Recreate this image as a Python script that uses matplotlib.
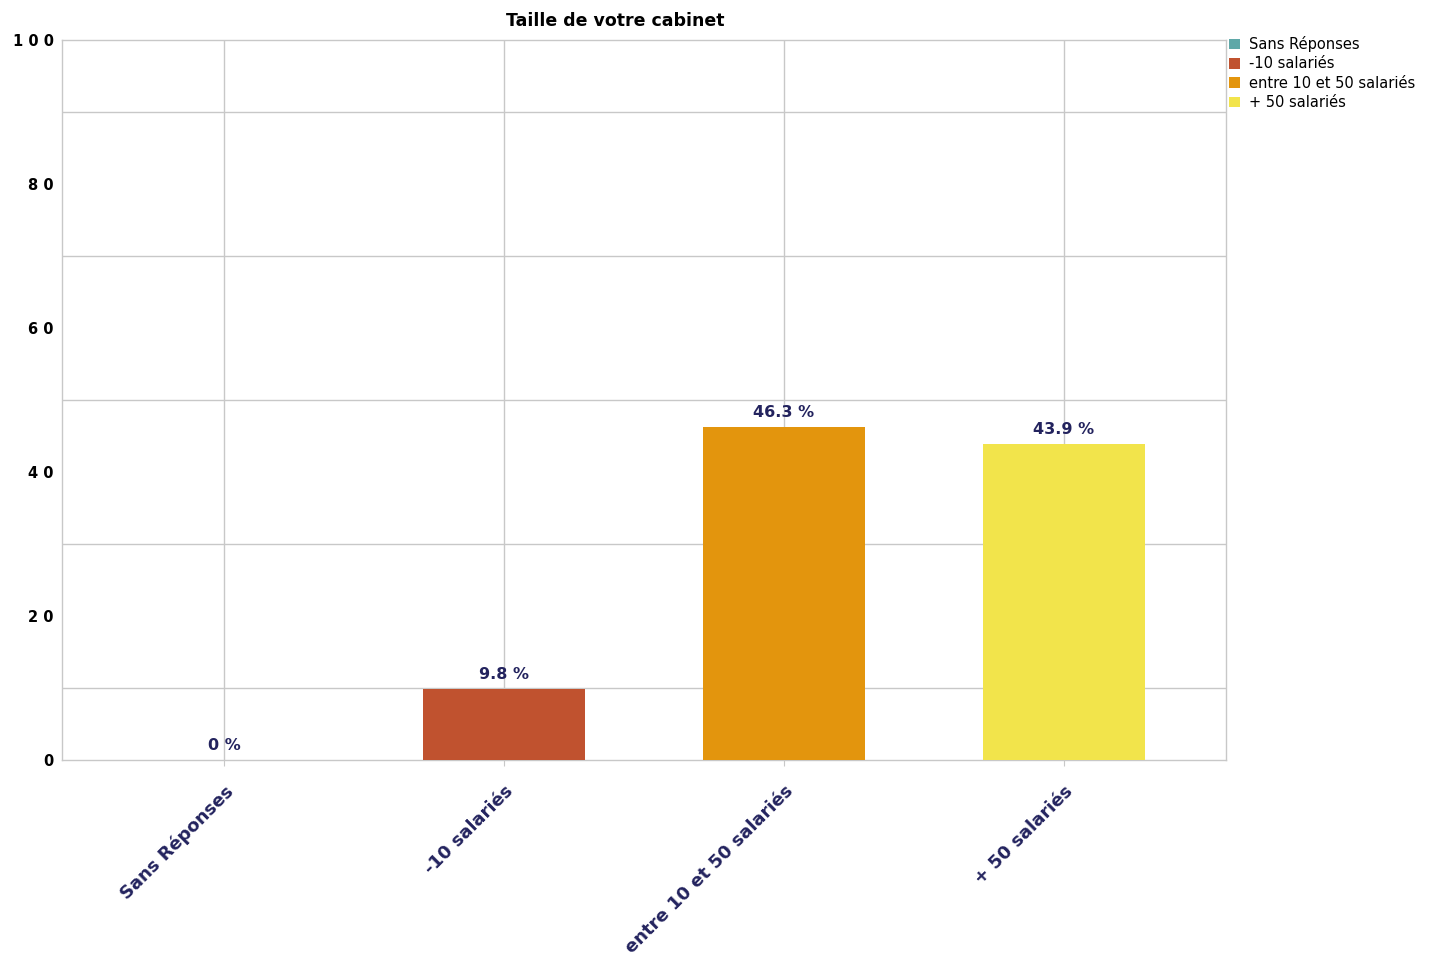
import matplotlib
matplotlib.use("Agg")
import matplotlib.pyplot as plt
from matplotlib.patches import Patch

# Donnees
categories = ["Sans Réponses", "-10 salariés", "entre 10 et 50 salariés", "+ 50 salariés"]
valeurs = [0, 9.8, 46.3, 43.9]
etiquettes = ["0 %", "9.8 %", "46.3 %", "43.9 %"]
couleurs = ["#5fa8a8", "#c0522f", "#e3950d", "#f2e44b"]
yticks = [0, 20, 40, 60, 80, 100]
ygrille = [10, 30, 50, 70, 90]

bleu = "#23235e"
gris = "#c8c8c8"

fig = plt.figure(figsize=(14.3, 9.61), dpi=100)
ax = fig.add_axes([62 / 1430, 1 - 760 / 961, (1226 - 62) / 1430, (760 - 40) / 961])

x = list(range(len(categories)))
ax.bar(x, valeurs, width=0.58, color=couleurs, zorder=3)

# Etiquettes de valeur
for xi, v, t in zip(x, valeurs, etiquettes):
    ax.annotate(t, (xi, v), xytext=(0, 5), textcoords="offset points",
                ha="center", va="bottom", fontsize=11.5, fontweight="bold",
                color=bleu, zorder=4)

ax.set_xlim(-0.58, 3.58)
ax.set_ylim(0, 100)

# Axe Y
ax.set_yticks(yticks)
ax.set_yticklabels([" ".join(str(v)) for v in yticks], fontsize=10.5,
                   fontweight="bold", color="black")
ax.set_yticks(ygrille, minor=True)
ax.tick_params(axis="y", which="both", length=0, pad=6)
ax.grid(True, axis="y", which="minor", color=gris, linewidth=1, zorder=0)

# Axe X
ax.set_xticks(x)
ax.set_xticklabels(categories, rotation=45, ha="right", rotation_mode="anchor",
                   fontsize=13, fontweight="bold", color=bleu)
for lab in ax.get_xticklabels():
    lab.set_x(lab.get_position()[0])
ax.tick_params(axis="x", length=4, color=gris, pad=12)
ax.grid(True, axis="x", color=gris, linewidth=1, zorder=0)

for s in ax.spines.values():
    s.set_color(gris)
    s.set_linewidth(1)

# Titre
fig.text(615 / 1430, 1 - 21 / 961, "Taille de votre cabinet", ha="center",
         va="center", fontsize=12.5, fontweight="bold", color="black")

# Legende
poignees = [Patch(facecolor=c, edgecolor="none") for c in couleurs]
fig.legend(poignees, categories, loc="upper left",
           bbox_to_anchor=(1229 / 1430, 1 - 36 / 961), frameon=False,
           fontsize=10.5, handlelength=0.75, handleheight=0.75,
           handletextpad=0.6, labelspacing=0.3, borderpad=0, borderaxespad=0)

fig.savefig("out.png", dpi=100, facecolor="white")
